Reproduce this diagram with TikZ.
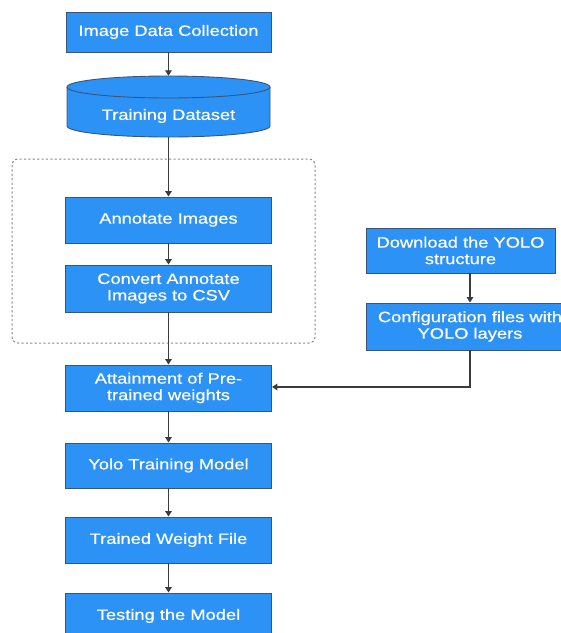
\documentclass[tikz,border=0pt]{standalone}
\usepackage{fontspec}
\newfontfamily\boxfont[FakeStretch=1.22,FakeBold=0.6]{Liberation Sans}
\usetikzlibrary{arrows.meta}
\definecolor{boxblue}{HTML}{2D92F5}
\definecolor{boxedge}{HTML}{3A5578}
\definecolor{linegray}{HTML}{3C3C3C}
\definecolor{dashgray}{HTML}{8A8A8A}
\tikzset{
  boxtext/.style={text=white, font=\boxfont\fontsize{15}{16.5}\selectfont, align=center},
  procbox/.style={boxtext, draw=boxedge, line width=0.9pt, fill=boxblue,
    inner sep=0pt, minimum height=46pt, minimum width=206pt},
  flow/.style={draw=linegray, line width=1.3pt, -{Triangle[width=6.5pt,length=5.5pt]}},
  groupbox/.style={draw=dashgray, line width=1pt, dash pattern=on 2.2pt off 2.2pt, rounded corners=6pt}
}
\begin{document}
\begin{tikzpicture}[x=1pt,y=-1pt]
\path[use as bounding box, clip] (0,0) rectangle (561,633);
\fill[white] (0,0) rectangle (561,633);

% dashed group
\draw[groupbox] (12,159) rectangle (315,343);

% top box
\node[procbox, minimum height=40pt, minimum width=205pt] (idc) at (168.5,32) {Image Data Collection};

% cylinder
\node[minimum width=203pt, minimum height=61pt, inner sep=0pt] (td) at (168.5,106.5) {};
\path[draw=boxedge, line width=0.9pt, fill=boxblue]
  (67,87) -- (67,126) arc[start angle=180, end angle=360, x radius=101.5pt, y radius=11pt]
  -- (270,87) arc[start angle=0, end angle=180, x radius=101.5pt, y radius=11pt] -- cycle;
\draw[boxedge, line width=0.9pt] (67,87) arc[start angle=180, end angle=360, x radius=101.5pt, y radius=11pt];
\node[boxtext] (tdlabel) at (168.5,116) {Training Dataset};

\node[procbox] (ann)  at (168.5,220)   {Annotate Images};
\node[procbox, minimum height=47pt] (conv) at (168.5,288.5) {Convert Annotate\\Images to CSV};
\node[procbox] (att)  at (168.5,388)   {Attainment of Pre-\\trained weights};
\node[procbox, minimum height=45pt] (yolo) at (168.5,465.5) {Yolo Training Model};
\node[procbox] (tw)   at (168.5,540)   {Trained Weight File};
\node[procbox] (test) at (168.5,616)   {Testing the Model};

\node[procbox, minimum width=189pt, minimum height=45pt] (dl) at (460.5,250.5) {Download the YOLO\\structure};
\node[procbox, minimum width=208pt, minimum height=47pt] (cfg) at (470,326.5) {Configuration files with\\YOLO layers};

% connectors
\draw[flow] (idc.south) -- (td.north);
\draw[flow] (td.south) -- (ann.north);
\draw[flow] (ann.south) -- (conv.north);
\draw[flow] (conv.south) -- (att.north);
\draw[flow] (att.south) -- (yolo.north);
\draw[flow] (yolo.south) -- (tw.north);
\draw[flow] (tw.south) -- (test.north);
\draw[flow] (cfg.north |- dl.south) -- (cfg.north);
\coordinate (bend) at (470,387);
\draw[flow] (cfg.south) -- (bend) -- (att.east |- bend);
\end{tikzpicture}
\end{document}
